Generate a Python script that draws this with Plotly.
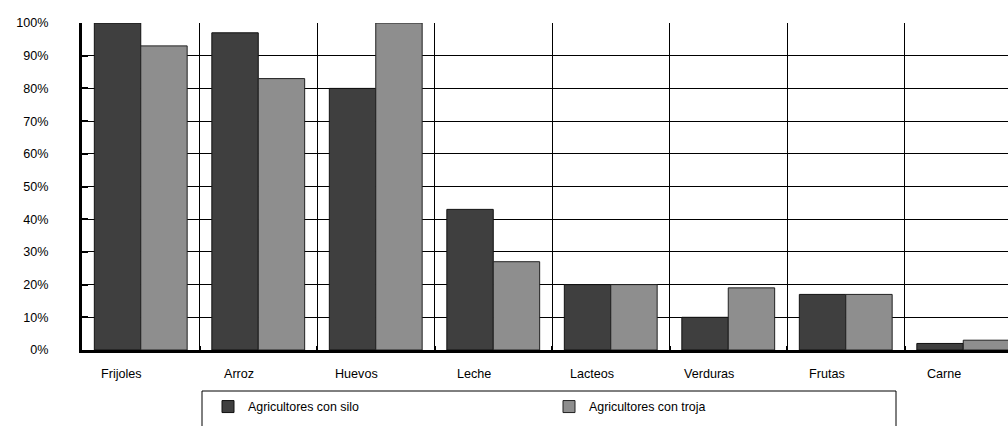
import plotly.graph_objects as go

categories = ["Frijoles", "Arroz", "Huevos", "Leche", "Lacteos", "Verduras", "Frutas", "Carne"]
silo = [100, 97, 80, 43, 20, 10, 17, 2]
troja = [93, 83, 100, 27, 20, 19, 17, 3]
y_ticks = [0, 10, 20, 30, 40, 50, 60, 70, 80, 90, 100]
y_tick_text = [f"{v}%" for v in y_ticks]
series_names = ["Agricultores con silo", "Agricultores con troja"]

FONT = "Liberation Sans, Arial, sans-serif"
W, H = 1008, 426
L, R, T, B = 82, 0, 23, 76
plot_w = W - L - R
plot_h = H - T - B
cat_px = 117.5


def px_x(p):
    return (p - L) / plot_w


def px_y(p):
    return (H - B - p) / plot_h


fig = go.Figure()
fig.add_trace(go.Bar(
    x=categories, y=silo, name=series_names[0],
    marker=dict(color="#3f3f3f", line=dict(color="#111111", width=1)),
))
fig.add_trace(go.Bar(
    x=categories, y=troja, name=series_names[1],
    marker=dict(color="#8e8e8e", line=dict(color="#222222", width=1)),
))

# category labels sit slightly left of each group's centre
for c in categories:
    fig.add_annotation(
        x=c, xref="x", y=px_y(374), yref="paper",
        text=c, showarrow=False, xshift=-19,
        font=dict(family=FONT, size=12.6, color="#000000"),
        xanchor="center", yanchor="middle",
    )

# legend frame (runs off the bottom edge)
fig.add_shape(
    type="rect", xref="paper", yref="paper",
    x0=px_x(202), x1=px_x(896), y0=px_y(391), y1=px_y(450),
    line=dict(color="#000000", width=1), fillcolor="rgba(0,0,0,0)",
)

fig.update_layout(
    width=W, height=H,
    margin=dict(l=L, r=R, t=T, b=B, pad=0),
    paper_bgcolor="white", plot_bgcolor="white",
    barmode="group", bargap=0.21, bargroupgap=0,
    font=dict(family=FONT, size=12, color="#000000"),
    showlegend=True,
    legend=dict(
        orientation="h", x=px_x(208), xanchor="left",
        y=px_y(392), yanchor="top",
        bgcolor="rgba(0,0,0,0)", borderwidth=0,
        entrywidth=296, entrywidthmode="pixels",
        font=dict(family=FONT, size=12.4, color="#000000"),
        traceorder="normal",
    ),
)

fig.update_xaxes(
    range=[-0.5, -0.5 + plot_w / cat_px],
    showticklabels=False,
    tickson="boundaries",
    showgrid=True, gridcolor="#000000", gridwidth=1,
    ticks="inside", ticklen=4, tickwidth=2, tickcolor="#000000",
    showline=True, linecolor="#000000", linewidth=3,
    zeroline=False, fixedrange=True,
)
fig.update_yaxes(
    range=[0, 100],
    tickmode="array", tickvals=y_ticks, ticktext=y_tick_text,
    showgrid=True, gridcolor="#000000", gridwidth=1,
    ticks="inside", ticklen=6, tickwidth=2, tickcolor="#000000",
    showline=True, linecolor="#000000", linewidth=3,
    ticklabelstandoff=28,
    tickfont=dict(family=FONT, size=12.6, color="#000000"),
    zeroline=False, fixedrange=True,
)

fig.write_html("out.html")
